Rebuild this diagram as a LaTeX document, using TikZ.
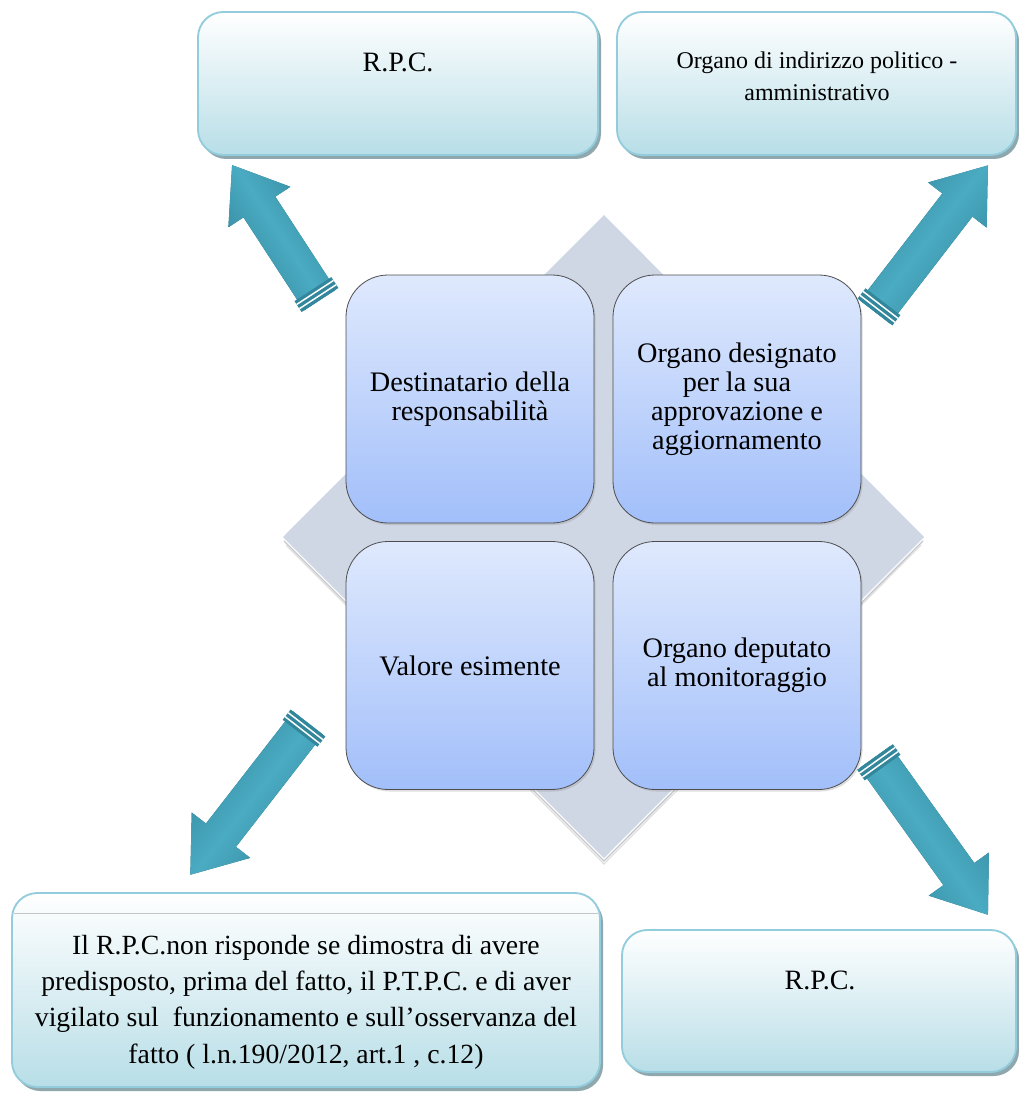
\documentclass[tikz,border=0pt]{standalone}
\usepackage{fontspec}
\setmainfont{Liberation Serif}
\usetikzlibrary{shadows}

\definecolor{boxborder}{HTML}{93CCDC}
\definecolor{boxbottom}{HTML}{B8DEE7}
\definecolor{boxshadow}{HTML}{8EA8AD}
\definecolor{diamondfill}{HTML}{CFD6E4}
\definecolor{bevelgray}{HTML}{C4C6C9}
\definecolor{squaretop}{HTML}{DFE9FD}
\definecolor{squarebottom}{HTML}{A2BFFA}
\definecolor{squareedge}{HTML}{4D4D4D}
\definecolor{tealmid}{HTML}{4AABC2}
\definecolor{tealedge}{HTML}{33879C}
\definecolor{tealside}{HTML}{25687A}

\tikzset{
  outerbox/.style={rounded corners=19pt, draw=boxborder, line width=1.4pt,
    top color=white, bottom color=boxbottom},
  outershadow/.style={rounded corners=19pt, fill=boxshadow},
  outertext/.style={inner sep=0pt, align=center, text=black},
  quadrant/.style={rounded corners=31.5pt, draw=squareedge, line width=0.6pt,
    top color=squaretop, bottom color=squarebottom,
    minimum width=186pt, minimum height=186pt, inner sep=0pt,
    align=center, font=\fontsize{21.2}{21.75}\selectfont,
    drop shadow={shadow xshift=1.2pt, shadow yshift=-1.5pt, opacity=0.25}},
  arrowface/.style={shading=axis, top color=tealedge, bottom color=tealedge,
    middle color=tealmid},
  arrowside/.style={fill=tealside},
}

% thick bevelled arrow: #1 tail coordinate, #2 direction angle, #3 length
\newcommand\tealarrow[3]{%
  \begin{scope}[yshift=-3pt, shift={(#1)}, rotate=#2]
    \fill[arrowside] (0,-19) -- ({#3-50},-19) -- ({#3-50},-37) -- (#3,0)
      -- ({#3-50},37) -- ({#3-50},19) -- (0,19) -- cycle;
  \end{scope}
  \begin{scope}[shift={(#1)}, rotate=#2]
    \path[arrowface, shading angle=#2] (0,-19) -- ({#3-50},-19) -- ({#3-50},-37)
      -- (#3,0) -- ({#3-50},37) -- ({#3-50},19) -- (0,19) -- cycle;
    \fill[tealedge] (0,-22) rectangle (13,22);
    \draw[white, line width=1.1pt] (4,-22) -- (4,22);
    \draw[white, line width=1.1pt] (9,-22) -- (9,22);
  \end{scope}}

\begin{document}
\begin{tikzpicture}[x=0.75pt, y=-0.75pt]
  \useasboundingbox (0,0) rectangle (1019,1095);

  % outer boxes with their shadows
  \fill[outershadow] (201,16) rectangle (601,159);
  \path[outerbox] (198,12) rectangle (598,155);
  \fill[outershadow] (620,16) rectangle (1019,159);
  \path[outerbox] (617,12) rectangle (1016,155);
  \fill[outershadow] (15,897) rectangle (603,1091);
  \path[outerbox] (12,893) rectangle (600,1087);
  \draw[bevelgray, line width=0.6pt] (14,913) -- (598,913);
  \fill[outershadow] (625,934) rectangle (1019,1076);
  \path[outerbox] (622,930) rectangle (1016,1072);

  \node[outertext, font=\fontsize{21}{24}\selectfont] (rpcTop) at (398,62) {R.P.C.};
  \node[outertext, font=\fontsize{18}{24}\selectfont] (organo) at (817,76)
    {Organo di indirizzo politico -\\amministrativo};
  \node[outertext, font=\fontsize{20.8}{27.2}\selectfont] (esimente) at (306,1002)
    {Il R.P.C.non risponde se dimostra di avere\\
     predisposto, prima del fatto, il P.T.P.C. e di aver\\
     vigilato sul\ \ funzionamento e sull’osservanza del\\
     fatto ( l.n.190/2012, art.1 , c.12)};
  \node[outertext, font=\fontsize{21}{24}\selectfont] (rpcBottom) at (820,980) {R.P.C.};

  % central diamond with bevelled lower edges
  \fill[diamondfill] (604,215) -- (924,537) -- (604,858) -- (283,537) -- cycle;
  \draw[bevelgray, line width=1pt] (284,541) -- (604,861) -- (923,541);
  \draw[bevelgray!60, line width=0.8pt] (286,545) -- (604,864) -- (921,545);

  % four quadrants
  \node[quadrant] (qResp) at (470,399) {Destinatario della\\responsabilità};
  \node[quadrant] (qOrg) at (737,399)
    {Organo designato\\per la sua\\approvazione e\\aggiornamento};
  \node[quadrant] (qVal) at (470,665.5) {Valore esimente};
  \node[quadrant] (qMon) at (737,665.5) {Organo deputato\\al monitoraggio};

  % arrows pointing to the outer boxes
  \coordinate (tailNW) at (320,300);
  \coordinate (tailNE) at (875,312);
  \coordinate (tailSW) at (308,723);
  \coordinate (tailSE) at (875,757);
  \tealarrow{tailNW}{123.1}{161}
  \tealarrow{tailNE}{52.4}{185}
  \tealarrow{tailSW}{232.2}{192}
  \tealarrow{tailSE}{-54.4}{194}
\end{tikzpicture}
\end{document}
